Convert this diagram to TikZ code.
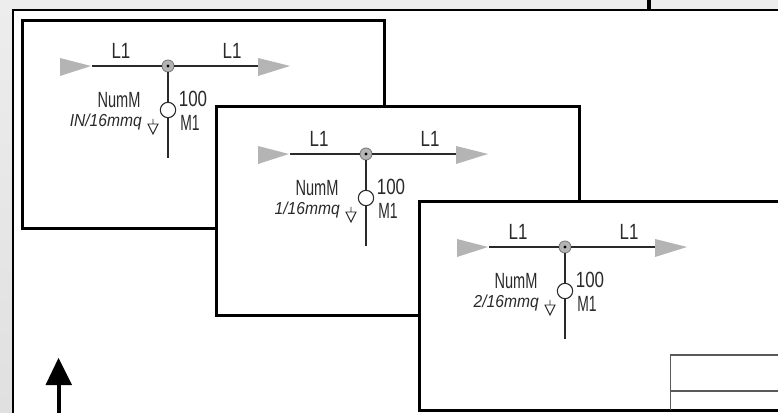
\documentclass[tikz,border=0pt]{standalone}
\usepackage{fontspec}
\setmainfont{Liberation Sans}
\usetikzlibrary{calc}
\definecolor{bgtop}{HTML}{EDEDED}
\definecolor{bgbot}{HTML}{E0E0E0}
\definecolor{tip}{HTML}{B4B4B4}
\definecolor{ink}{HTML}{2A2A2A}
\tikzset{
  x=0.75pt,y=-0.75pt,
  sheet/.style={draw=black,fill=white,line width=2.25pt,minimum width=272pt,minimum height=156.5pt,inner sep=0pt,anchor=north west},
  wire/.style={draw=ink,line width=0.8pt},
  greytip/.style={fill=tip,draw=none},
  lab/.style={inner sep=0pt,text=ink,font=\fontsize{16.5pt}{17pt}\selectfont,xscale=0.77},
  labsmall/.style={inner sep=0pt,text=ink,font=\fontsize{13pt}{14pt}\selectfont\itshape,xscale=0.9},
  motor/.style={circle,draw=ink,fill=white,line width=0.8pt,minimum size=11.5pt,inner sep=0pt},
  junction/.style={circle,draw=gray,fill=tip,line width=0.7pt,minimum size=9pt,inner sep=0pt},
  dot/.style={circle,fill=black,minimum size=2.5pt,inner sep=0pt},
}
\newcommand{\motorunit}[4]{% prefix, dx, dy, text
  \begin{scope}[shift={(#2,#3)}]
    \coordinate (#1wl) at (92,66);
    \coordinate (#1wr) at (258,66);
    \coordinate (#1we) at (168,158);
    \fill[greytip] (60,58) -- (91,66) -- (60,76) -- cycle;
    \fill[greytip] (258,58) -- (290,66) -- (258,76) -- cycle;
    \node[junction] (#1j) at (168,66) {};
    \node[motor] (#1m) at (168,110) {};
    \draw[wire] (#1wl) -- (#1j.west);
    \draw[wire] (#1j.east) -- (#1wr);
    \draw[wire] (#1j.south) -- (#1m.north);
    \draw[wire] (#1m.south) -- (#1we);
    \node[dot] (#1d) at (168,66) {};
    \node[lab] (#1a) at (121,51) {L1};
    \node[lab] (#1b) at (232,51) {L1};
    \node[lab,xscale=0.86] (#1n) at (119,100) {NumM};
    \node[labsmall,anchor=east] (#1t) at (142,122) {#4};
    \node[lab] (#1c) at (193,99) {100};
    \node[lab,xscale=0.82] (#1e) at (190,123) {M1};
    \draw[ink,line width=0.7pt] (153,119) -- (153,124) (148,124) -- (158,124) -- (153,134) -- cycle;
  \end{scope}
}
\begin{document}
\begin{tikzpicture}
\useasboundingbox (0,0) rectangle (778,413);
\shade[top color=bgtop,bottom color=bgbot] (0,0) rectangle (778,413);
\fill[white] (13,10) rectangle (778,413);
\draw[black,line width=1pt] (13,413) -- (13,10) -- (778,10);
\fill[black] (646.5,0) rectangle (650.5,10);
\begin{scope}
\clip (0,0) rectangle (778,413);
\node[sheet] (s1) at (20.8,18.8) {};
\motorunit{a}{0}{0}{IN/16mmq}
\node[sheet] (s2) at (215.3,105.3) {};
\motorunit{b}{198}{88}{1/16mmq}
\node[sheet] (s3) at (418.3,200.3) {};
\motorunit{c}{397}{181}{2/16mmq}
\draw[gray!70!black,line width=0.9pt] (670.5,410) -- (670.5,355) -- (778,355) (670.5,391) -- (778,391);
\end{scope}
\coordinate (up) at (58.5,413);
\coordinate (uptip) at (58.5,358);
\draw[black,line width=3pt] (up) -- (58.5,380);
\fill[black] (uptip) -- (72,385) -- (45.5,385) -- cycle;
\end{tikzpicture}
\end{document}
